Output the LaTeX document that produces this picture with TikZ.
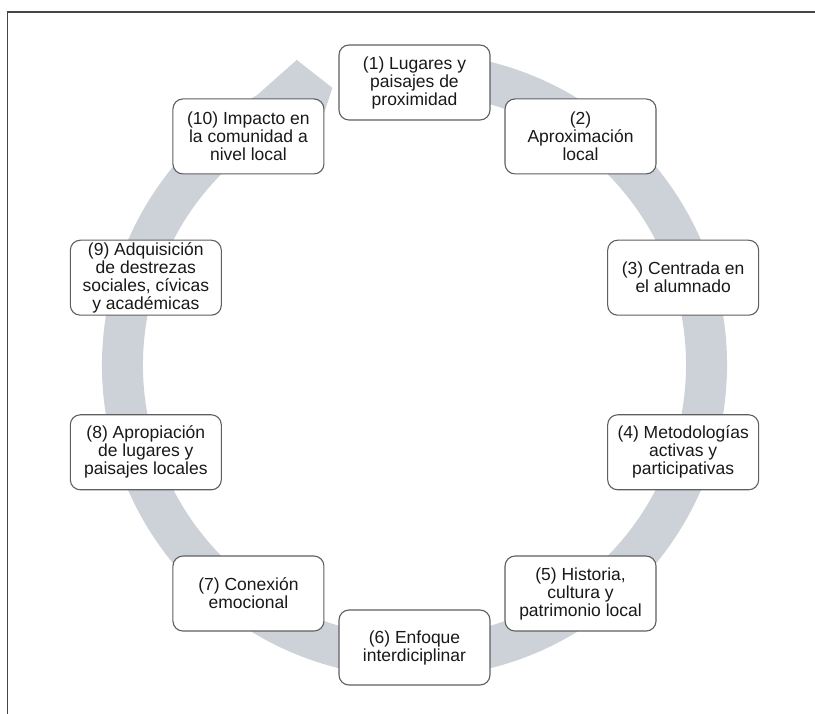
\documentclass[tikz,border=0pt]{standalone}
\usepackage{fontspec}
\setmainfont{Liberation Sans}
\definecolor{ringgray}{RGB}{205,210,216}
\definecolor{boxline}{RGB}{95,95,95}
\definecolor{framegray}{RGB}{70,70,70}

\begin{document}
\begin{tikzpicture}[
  x=1pt,
  y=1pt,
  every node/.style={font=\fontsize{17.5}{18}\selectfont, text=black!90},
  stage/.style={draw=boxline, fill=white, line width=1.1pt, rounded corners=10pt,
    minimum width=151pt, minimum height=75pt, align=center, inner sep=1pt},
  ring/.style={fill=ringgray}
]
\useasboundingbox (-414.5,-349) rectangle (400.5,365);

\def\rr{282.5}  
\def\ro{312.5}  
\def\ri{271.5}  

% frame
\draw[framegray, line width=1.2pt] (-407,-349) -- (-407,353) -- (400.5,353);

% ring with its arrow head
\fill[ring] (80:\ro) arc[start angle=80, end angle=-239.8, radius=\ro]
  -- (-248.9:327) -- (-253.5:289) -- (-248:255) -- (-240:\ri)
  arc[start angle=-240, end angle=80, radius=\ri] -- cycle;

\node[stage] (s1) at (90:\rr) {(1) Lugares y\\paisajes de\\proximidad};
\node[stage] (s2) at (54:\rr) {(2)\\Aproximación\\local};
\node[stage] (s3) at (18:\rr) {(3) Centrada en\\el alumnado};
\node[stage] (s4) at (-18:\rr) {(4) Metodologías\\activas y\\participativas};
\node[stage] (s5) at (-54:\rr) {(5) Historia,\\cultura y\\patrimonio local};
\node[stage] (s6) at (-90:\rr) {(6) Enfoque\\interdiciplinar};
\node[stage] (s7) at (-126:\rr) {(7) Conexión\\emocional};
\node[stage] (s8) at (-162:\rr) {(8) Apropiación\\de lugares y\\paisajes locales};
\node[stage] (s9) at (162:\rr) {(9) Adquisición\\de destrezas\\sociales, cívicas\\y académicas};
\node[stage] (s10) at (126:\rr) {(10) Impacto en\\la comunidad a\\nivel local};

\end{tikzpicture}
\end{document}
